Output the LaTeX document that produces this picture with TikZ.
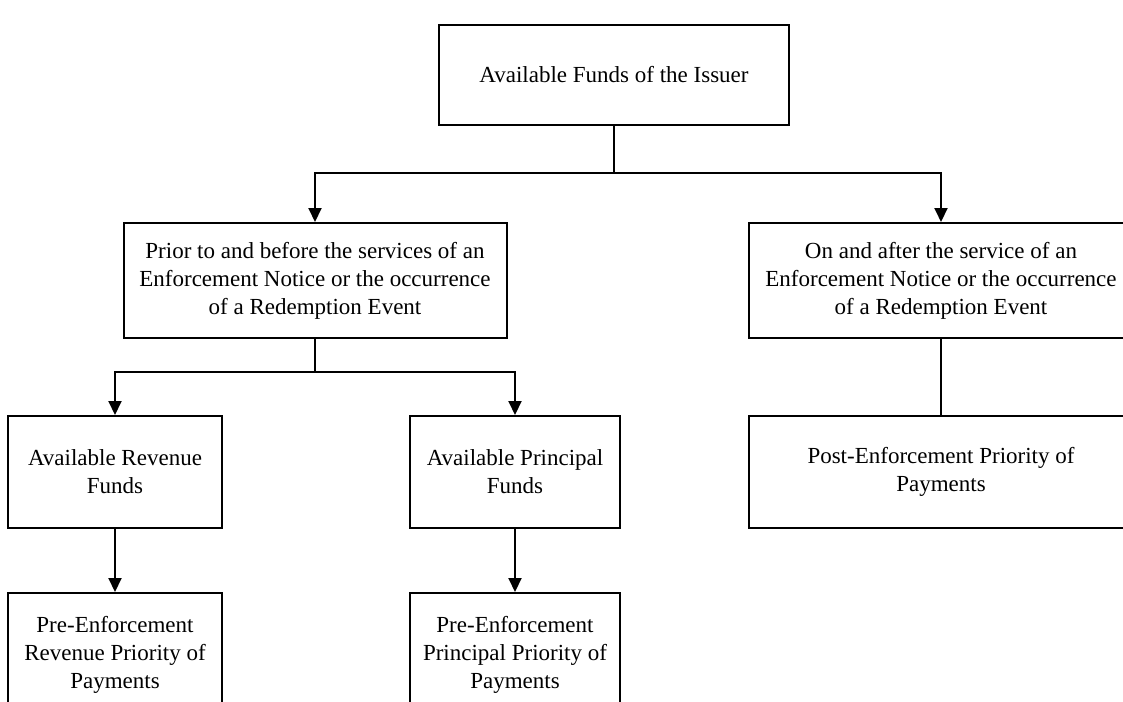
\documentclass[tikz,border=0pt]{standalone}
\usepackage{fontspec}
\setmainfont{Liberation Serif}
\usetikzlibrary{arrows.meta}
\usetikzlibrary{positioning}

\tikzset{
    kasten/.style={draw, line width=1pt, rectangle, align=center, inner sep=0pt,
        font=\fontsize{11.5}{14}\selectfont},
    pfeil/.style={-{Triangle[width=6.5pt,length=7pt]}, line width=1pt},
    linie/.style={line width=1pt}
}

\begin{document}
\begin{tikzpicture}[x=0.5pt, y=-0.5pt] % Koordinaten in Pixeln, y nach unten

    \useasboundingbox (0,0) rectangle (1123,701);
    \clip (0,0) rectangle (1123,701);

    % Oberster Kasten
    \node[kasten, minimum width=175pt, minimum height=50pt] (funds) at (614,75) {Available Funds of the Issuer};

    % Zweite Ebene
    \node[kasten, minimum width=191.5pt, minimum height=57.5pt] (prior) at (315,280.5)
        {Prior to and before the services of an\\Enforcement Notice or the occurrence\\of a Redemption Event};
    \node[kasten, minimum width=192.5pt, minimum height=57.5pt] (after) at (941,280.5)
        {On and after the service of an\\Enforcement Notice or the occurrence\\of a Redemption Event};

    % Dritte Ebene
    \node[kasten, minimum width=107pt, minimum height=56pt] (revfunds) at (115,472)
        {Available Revenue\\Funds};
    \node[kasten, minimum width=105pt, minimum height=56pt] (prinfunds) at (515,472)
        {Available Principal\\Funds};
    \node[kasten, minimum width=192.5pt, minimum height=56pt] (postenf) at (941,472)
        {Post-Enforcement Priority of\\Payments};

    % Unterste Ebene (unten abgeschnitten)
    \node[kasten, anchor=north, minimum width=107pt, inner ysep=11.5pt, text depth=60pt] (prerev) at (115,592)
        {Pre-Enforcement\\Revenue Priority of\\Payments};
    \node[kasten, anchor=north, minimum width=105pt, inner ysep=11.5pt, text depth=60pt] (preprin) at (515,592)
        {Pre-Enforcement\\Principal Priority of\\Payments};

    % Verzweigungspunkte
    \coordinate (gabel1) at (614,173);
    \coordinate (gabel2) at (315,372);

    % Verbindungen
    \draw[linie] (funds.south) -- (gabel1);
    \foreach \ziel in {prior, after} {
        \draw[pfeil] (gabel1) -| (\ziel.north);
    }
    \draw[linie] (prior.south) -- (gabel2);
    \foreach \ziel in {revfunds, prinfunds} {
        \draw[pfeil] (gabel2) -| (\ziel.north);
    }
    \draw[linie] (after.south) -- (postenf.north);
    \draw[pfeil] (revfunds.south) -- (prerev.north);
    \draw[pfeil] (prinfunds.south) -- (preprin.north);

\end{tikzpicture}
\end{document}
